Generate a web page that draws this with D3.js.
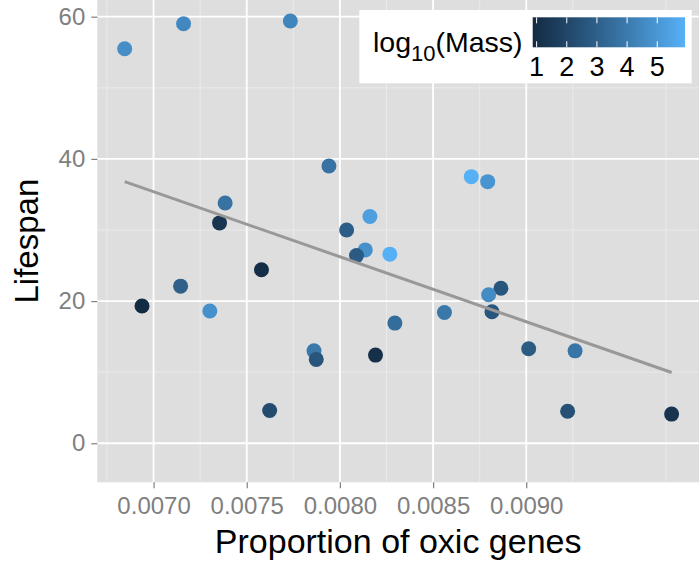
<!DOCTYPE html>
<html><head><meta charset="utf-8">
<script src="https://cdn.jsdelivr.net/npm/d3@7"></script>
<style>body{margin:0;background:#fff}svg{display:block;font-family:"Liberation Sans",Arial,Helvetica,sans-serif}</style>
</head><body><svg id="c" width="700" height="563"></svg>
<script>
const oxic = [0.006845,0.007161,0.007734,0.007941,0.007384,0.007354,0.008161,0.008036,0.008136,0.008089,0.008268,0.007579,0.007145,0.006938,0.007302,0.008295,0.007861,0.007873,0.008191,0.007623,0.008705,0.008793,0.008864,0.008798,0.008816,0.008561,0.009013,0.009262,0.009222,0.009780];
const lifespan = [55.5,59.0,59.4,39.0,33.8,31.0,31.9,30.0,27.2,26.4,26.6,24.4,22.1,19.3,18.6,16.9,13.0,11.8,12.4,4.6,37.5,36.8,21.8,20.9,18.5,18.4,13.3,13.0,4.5,4.1];
const logMass = [4.7,4.5,4.4,3.7,3.7,1.3,5.3,2.9,4.8,2.8,5.9,1.0,3.0,0.9,4.8,3.5,3.9,2.6,1.1,2.2,5.9,4.9,2.6,4.6,2.6,3.9,2.8,3.8,2.4,1.2];
const trendX = [0.006845, 0.009780];
const trendY = [36.8, 9.95];
const xTicks = [0.0070,0.0075,0.0080,0.0085,0.0090];
const yTicks = [0,20,40,60];
const massTicks = [1,2,3,4,5];

const svg = d3.select("#c");
const P = {l:97.3, r:699, t:0, b:482.3};
const x = d3.scaleLinear().domain([0.006698,0.009927]).range([P.l,P.r]);
const y = d3.scaleLinear().domain([-5.49,62.35]).range([P.b,P.t]);
const col = d3.scaleLinear().domain([0.87,5.92]).range(["#132B43","#56B1F7"]).interpolate(d3.interpolateLab);

svg.append("rect").attr("x",P.l).attr("y",P.t).attr("width",P.r-P.l).attr("height",P.b-P.t).attr("fill","#DEDEDE");
const xMinor = [0.00675,0.00725,0.00775,0.00825,0.00875,0.00925,0.00975];
const yMinor = [-10,10,30,50];
const g = svg.append("g");
g.selectAll(".xm").data(xMinor).join("line").attr("x1",d=>x(d)).attr("x2",d=>x(d)).attr("y1",P.t).attr("y2",P.b).attr("stroke","#EAEAEA").attr("stroke-width",1);
g.selectAll(".ym").data(yMinor.filter(d=>y(d)>P.t&&y(d)<P.b)).join("line").attr("y1",d=>y(d)).attr("y2",d=>y(d)).attr("x1",P.l).attr("x2",P.r).attr("stroke","#EAEAEA").attr("stroke-width",1);
g.selectAll(".xM").data(xTicks).join("line").attr("x1",d=>x(d)).attr("x2",d=>x(d)).attr("y1",P.t).attr("y2",P.b).attr("stroke","#fff").attr("stroke-width",1.8);
g.selectAll(".yM").data(yTicks).join("line").attr("y1",d=>y(d)).attr("y2",d=>y(d)).attr("x1",P.l).attr("x2",P.r).attr("stroke","#fff").attr("stroke-width",1.8);

// axes
const xa = svg.append("g").attr("transform",`translate(0,${P.b})`).call(d3.axisBottom(x).tickValues(xTicks).tickFormat(d3.format(".4f")).tickSize(6).tickPadding(9));
const ya = svg.append("g").attr("transform",`translate(${P.l},0)`).call(d3.axisLeft(y).tickValues(yTicks).tickSize(6).tickPadding(6));
[xa,ya].forEach(a=>{a.select(".domain").remove();a.selectAll("line").attr("stroke","#7F7F7F").attr("stroke-width",1.2);a.selectAll("text").attr("fill","#7F7F7F").attr("font-size",24).attr("font-family","Liberation Sans, Arial, sans-serif");});

// points
const pts = oxic.map((v,i)=>({x:v,y:lifespan[i],m:logMass[i]}));
svg.append("g").selectAll("circle").data(pts).join("circle").attr("cx",d=>x(d.x)).attr("cy",d=>y(d.y)).attr("r",7.5).attr("fill",d=>col(d.m));

// trend
svg.append("line").attr("x1",x(trendX[0])).attr("y1",y(trendY[0])).attr("x2",x(trendX[1])).attr("y2",y(trendY[1])).attr("stroke","#989898").attr("stroke-width",3);

// titles
svg.append("text").attr("x",(P.l+P.r)/2).attr("y",553).attr("text-anchor","middle").attr("font-size",34).attr("fill","#000").text("Proportion of oxic genes");
svg.append("text").attr("transform",`translate(38,${(P.t+P.b)/2}) rotate(-90)`).attr("text-anchor","middle").attr("font-size",33).attr("fill","#000").text("Lifespan");

// legend
const L = svg.append("g");
L.append("rect").attr("x",359.3).attr("y",10).attr("width",332.4).attr("height",73.3).attr("fill","#fff");
const lt = L.append("text").attr("x",373).attr("y",52).attr("font-size",28.5).attr("fill","#000");
lt.append("tspan").text("log");
lt.append("tspan").attr("dy",9).attr("font-size",22).text("10");
lt.append("tspan").attr("dy",-9).text("(Mass)");
const lx = d3.scaleLinear().domain([0.87,5.92]).range([532.7,685]);
const defs = svg.append("defs");
const grad = defs.append("linearGradient").attr("id","gr");
d3.range(0,1.0001,0.1).forEach(t=>grad.append("stop").attr("offset",t).attr("stop-color",col(0.87+t*(5.92-0.87))));
L.append("rect").attr("x",lx.range()[0]).attr("y",17.3).attr("width",lx.range()[1]-lx.range()[0]).attr("height",30).attr("fill","url(#gr)");
L.selectAll(".tt").data(massTicks).join("line").attr("x1",d=>lx(d)).attr("x2",d=>lx(d)).attr("y1",17.3).attr("y2",23.3).attr("stroke","#fff").attr("stroke-width",1);
L.selectAll(".tb").data(massTicks).join("line").attr("x1",d=>lx(d)).attr("x2",d=>lx(d)).attr("y1",41.3).attr("y2",47.3).attr("stroke","#fff").attr("stroke-width",1);
L.selectAll(".tl").data(massTicks).join("text").attr("x",d=>lx(d)).attr("y",76).attr("text-anchor","middle").attr("font-size",27).attr("fill","#000").text(d=>d);
</script></body></html>
